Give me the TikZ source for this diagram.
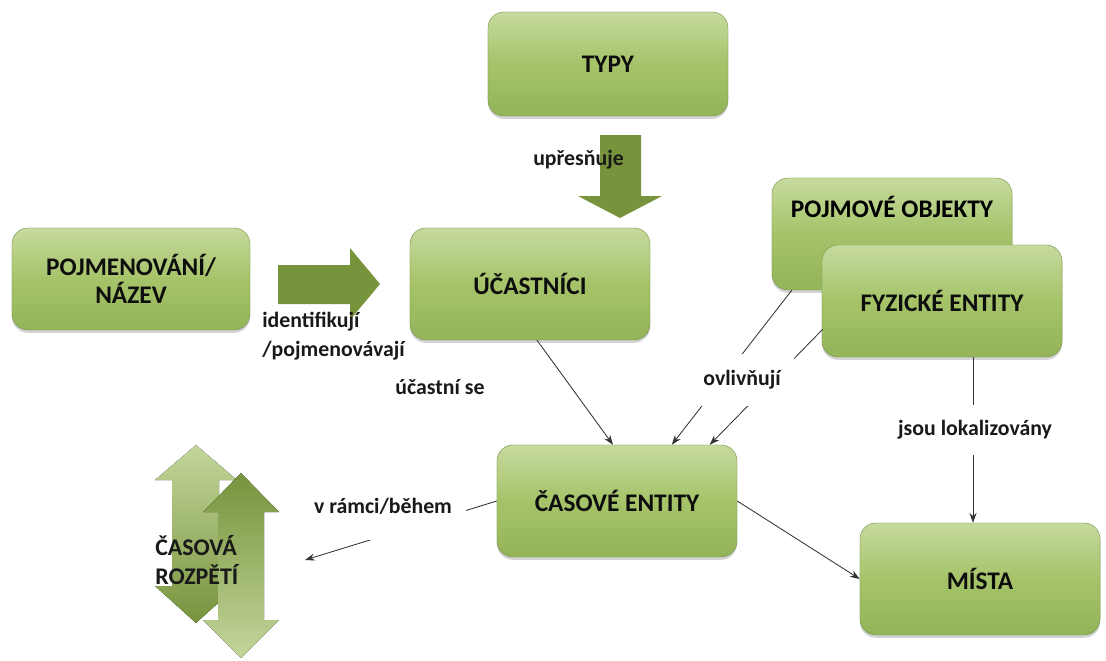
\documentclass[tikz,border=0pt]{standalone}
\usepackage{fontspec}
\setmainfont{Carlito}
\usetikzlibrary{positioning,calc,shadows,arrows.meta}

\definecolor{boxlight}{HTML}{C6DA9E}
\definecolor{boxmid}{HTML}{A6C369}
\definecolor{boxdark}{HTML}{94B45A}
\definecolor{arrowdark}{HTML}{77933C}
\definecolor{arrowlight}{HTML}{C3D69B}

\tikzset{
  entity/.style={rectangle, rounded corners=0.4cm, minimum width=6cm, minimum height=2.8cm,
    top color=boxlight, bottom color=boxdark, middle color=boxmid,
    draw=boxdark!80!black, line width=0.3pt,
    drop shadow={shadow xshift=0pt, shadow yshift=-2pt, opacity=0.35},
    font=\fontsize{18}{20}\selectfont\bfseries, align=center, text=black!95},
  rel/.style={font=\fontsize{15.5}{21}\selectfont\bfseries, text=black!90, align=left},
  conn/.style={->, >={Stealth[length=7pt,width=5pt]}, draw=black!80, line width=0.6pt},
}

\begin{document}
\begin{tikzpicture}[x=0.025cm, y=-0.025cm]
	\useasboundingbox (0,0) rectangle (1106,660);
	
	% boxes
	\node[entity, minimum height=2.6cm] (typy) at (608,64) {TYPY};
	\node[entity, minimum width=5.95cm, minimum height=2.55cm] (nazev) at (131,279) {POJMENOVÁNÍ/\\NÁZEV};
	\node[entity] (ucastnici) at (530,284) {ÚČASTNÍCI};
	\node[entity, label={[font=\fontsize{18}{20}\selectfont\bfseries, anchor=center, yshift=-0.72cm]north:POJMOVÉ OBJEKTY}] (pojmove) at (892,234) {};
	\node[entity] (fyzicke) at (942,301) {FYZICKÉ ENTITY};
	\node[entity] (casove) at (617,501) {ČASOVÉ ENTITY};
	\node[entity] (mista) at (980,579) {MÍSTA};
	
	% block arrows
	\fill[arrowdark] (278,265) -- (350,265) -- (350,248) -- (380,284) -- (350,320) -- (350,304) -- (278,304) -- cycle;
	\fill[arrowdark] (600,135) -- (641,135) -- (641,196) -- (662,196) -- (620,218) -- (578,196) -- (600,196) -- cycle;
	\fill[top color=arrowlight, bottom color=arrowdark] (196,445) -- (237,480) -- (219,480) -- (219,586) -- (237,586) -- (196,623) -- (155,586) -- (172,586) -- (172,480) -- (155,480) -- cycle;
	\fill[top color=arrowdark, bottom color=arrowlight] (241,473) -- (279,512) -- (264,512) -- (264,620) -- (279,620) -- (241,658) -- (203,620) -- (218,620) -- (218,512) -- (203,512) -- cycle;
	\node[rel, font=\fontsize{17}{21}\selectfont\bfseries, anchor=west, inner sep=0pt] (rozpeti) at (155,560) {ČASOVÁ\\ROZPĚTÍ};
	\coordinate (rozpetitip) at (305,560);
	
	% connectors
	\draw[conn] ($(ucastnici.south)+(7,0)$) -- ($(casove.north)+(-4,0)$);
	\draw[conn] ($(pojmove.south west)+(20,0)$) -- ($(casove.north west)+(175,0)$);
	\draw[conn] ($(fyzicke.south west)+(1,-28)$) -- ($(casove.north west)+(213,0)$);
	\draw[conn] ($(fyzicke.south)+(31,0)$) -- ($(mista.north)+(-7,0)$);
	\draw[conn] (casove.east) -- (mista.west);
	\draw[conn] (casove.west) -- (rozpetitip);
	
	% labels
	\node[rel, anchor=west, inner sep=0pt] (upresnuje) at (533,160) {upřesňuje};
	\node[rel, anchor=west, inner sep=0pt] (identif) at (262,336) {identifikují\\/pojmenovávají};
	\node[rel] (ucastni) at (440,387) {účastní se};
	\node[rel, fill=white, minimum width=2.6cm, minimum height=1.3cm] (ovlivnuji) at (742,380) {ovlivňují};
	\node[rel, fill=white, minimum height=1.25cm] (lokal) at (975,430) {jsou lokalizovány};
	\node[rel, fill=white, anchor=base, inner xsep=10pt, text depth=16pt] (vramci) at (383,513) {v rámci/během};
\end{tikzpicture}
\end{document}
